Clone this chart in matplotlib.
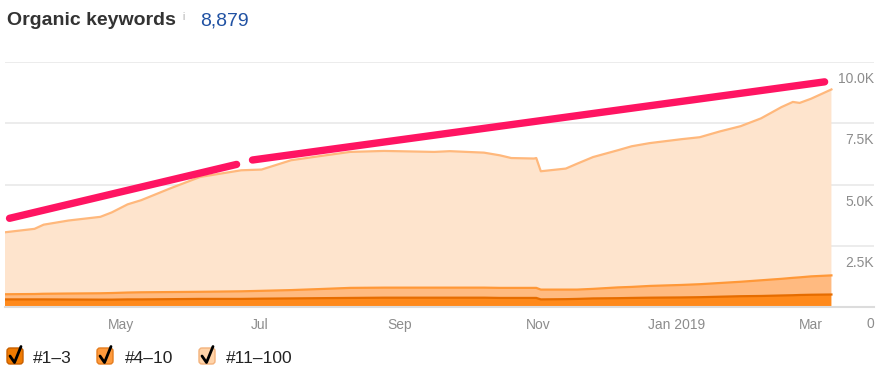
import matplotlib
matplotlib.use("Agg")
import matplotlib.pyplot as plt
import matplotlib.transforms as mtransforms
from matplotlib.patches import FancyBboxPatch
from matplotlib.lines import Line2D
import numpy as np
import pandas as pd

plt.rcParams['font.family'] = ['Liberation Sans', 'DejaVu Sans']

# ---- data ----
dates = pd.to_datetime([
    "2018-03-11", "2018-03-24", "2018-03-28", "2018-04-08", "2018-04-22",
    "2018-04-27", "2018-05-04", "2018-05-10", "2018-05-23", "2018-06-05",
    "2018-06-23", "2018-07-02", "2018-07-15", "2018-07-27", "2018-08-10",
    "2018-08-25", "2018-09-16", "2018-09-23", "2018-10-08", "2018-10-15",
    "2018-10-20", "2018-10-30", "2018-10-31", "2018-11-02", "2018-11-13",
    "2018-11-18", "2018-11-25", "2018-12-06", "2018-12-12", "2018-12-20",
    "2019-01-03", "2019-01-11", "2019-01-20", "2019-01-29", "2019-02-07",
    "2019-02-16", "2019-02-21", "2019-02-24", "2019-03-01", "2019-03-10",
])
pos_1_3 = [310, 310, 310, 305, 300, 300, 310, 310, 320, 330,
           330, 340, 350, 360, 370, 380, 380, 380, 380, 370,
           370, 370, 370, 310, 320, 330, 350, 360, 370, 380,
           390, 400, 420, 440, 450, 470, 480, 490, 500, 510]
pos_4_10 = [210, 220, 230, 245, 260, 270, 280, 290, 290, 290,
            310, 320, 340, 370, 410, 410, 410, 410, 410, 410,
            410, 410, 410, 400, 390, 380, 390, 440, 450, 480,
            510, 530, 560, 590, 640, 680, 710, 720, 750, 780]
pos_11_100 = [2530, 2660, 2820, 2980, 3120, 3290, 3600, 3760, 4240, 4690,
              4940, 4950, 5300, 5420, 5550, 5580, 5540, 5570, 5510, 5410,
              5300, 5280, 5300, 4830, 4940, 5140, 5380, 5600, 5740, 5830,
              5950, 6000, 6190, 6350, 6610, 7010, 7180, 7120, 7250, 7590]

# hand-drawn trend annotation (two strokes)
trend1_dates = pd.to_datetime(["2018-03-13", "2018-06-21"])
trend1_vals = [3620, 5820]
trend2_dates = pd.to_datetime(["2018-06-28", "2019-03-07"])
trend2_vals = [6000, 9190]

month_ticks = pd.to_datetime(["2018-05-01", "2018-07-01", "2018-09-01",
                              "2018-11-01", "2019-01-01", "2019-03-01"])
month_labels = ["May", "Jul", "Sep", "Nov", "Jan 2019", "Mar"]
y_ticks = [0, 2500, 5000, 7500, 10000]
y_labels = ["0", "2.5K", "5.0K", "7.5K", "10.0K"]

legend_labels = ["#1\u20133", "#4\u201310", "#11\u2013100"]
total_keywords = "8,879"

# ---- figure ----
W, H = 886, 369
fig = plt.figure(figsize=(W / 100, H / 100), dpi=100)
ax = fig.add_axes([5 / W, 1 - 307 / H, 869 / W, 245 / H])

fills = ["#ff8a1c", "#ffba80", "#fee4cd"]
edges = ["#e66c00", "#ff9838", "#ffb87c"]

ax.stackplot(dates, pos_1_3, pos_4_10, pos_11_100, colors=fills, linewidth=0, zorder=2)
cum = np.cumsum([pos_1_3, pos_4_10, pos_11_100], axis=0)
for vals, col in zip(cum[::-1], edges[::-1]):
    ax.plot(dates, vals, color=col, lw=1.6, zorder=3)

ax.plot(trend1_dates, trend1_vals, color="#ff1462", lw=5.3,
        solid_capstyle="round", clip_on=False, zorder=5)
ax.plot(trend2_dates, trend2_vals, color="#ff1462", lw=5.3,
        solid_capstyle="round", clip_on=False, zorder=5)

ax.set_xlim(pd.Timestamp("2018-03-11"), pd.Timestamp("2019-03-28 18:00"))
ax.set_ylim(0, 10000)

ax.set_yticks(y_ticks)
ax.yaxis.grid(True, color="#e9e9e9", lw=1.2)
ax.set_axisbelow(True)
ax.tick_params(axis="y", length=0, labelleft=False)

ax.set_xticks(month_ticks)
ax.set_xticklabels(month_labels)
ax.tick_params(axis="x", length=0, pad=8, labelsize=10, labelcolor="#8c8c8c")

for s in ["top", "left", "right"]:
    ax.spines[s].set_visible(False)
ax.spines["bottom"].set_color("#dcdcdc")
ax.spines["bottom"].set_linewidth(1.5)

for v, lab in zip(y_ticks, y_labels):
    ax.annotate(lab, xy=(1, v), xycoords=("axes fraction", "data"),
                xytext=(0, -17), textcoords="offset pixels",
                ha="right", va="center", fontsize=10, color="#8c8c8c")

# ---- header ----
fig.text(7 / W, 1 - 25 / H, "Organic keywords", fontsize=14, weight="bold",
         color="#333333", va="baseline")
fig.text(182 / W, 1 - 20 / H, "i", fontsize=7, color="#aaaaaa", va="baseline")
fig.text(200 / W, 1 - 25 / H, total_keywords, fontsize=14, color="#2152a3",
         va="baseline")

# ---- legend with check boxes ----
px = mtransforms.IdentityTransform()
box_x = [7, 97, 199]
text_x = [33, 125, 226]
box_fill = ["#f07a00", "#ff9a3c", "#ffd3a8"]
box_edge = ["#c86000", "#e57d1e", "#f3b27c"]
for bx, tx, fc, ec, lab in zip(box_x, text_x, box_fill, box_edge, legend_labels):
    top = H - 348
    fig.patches.append(FancyBboxPatch((bx, top - 16), 16, 16,
                                      boxstyle="round,pad=0,rounding_size=3",
                                      fc=fc, ec=ec, lw=1, transform=px,
                                      figure=fig))
    fig.lines.append(Line2D([bx + 3, bx + 7.5, bx + 14],
                            [top - 8, top - 14.5, top + 1.5],
                            color="black", lw=2.0, transform=px, figure=fig,
                            solid_joinstyle="round", solid_capstyle="round"))
    fig.text(tx / W, 1 - 362.7 / H, lab, fontsize=12.5, color="#222222",
             va="baseline")

fig.savefig("out.png", dpi=100)
